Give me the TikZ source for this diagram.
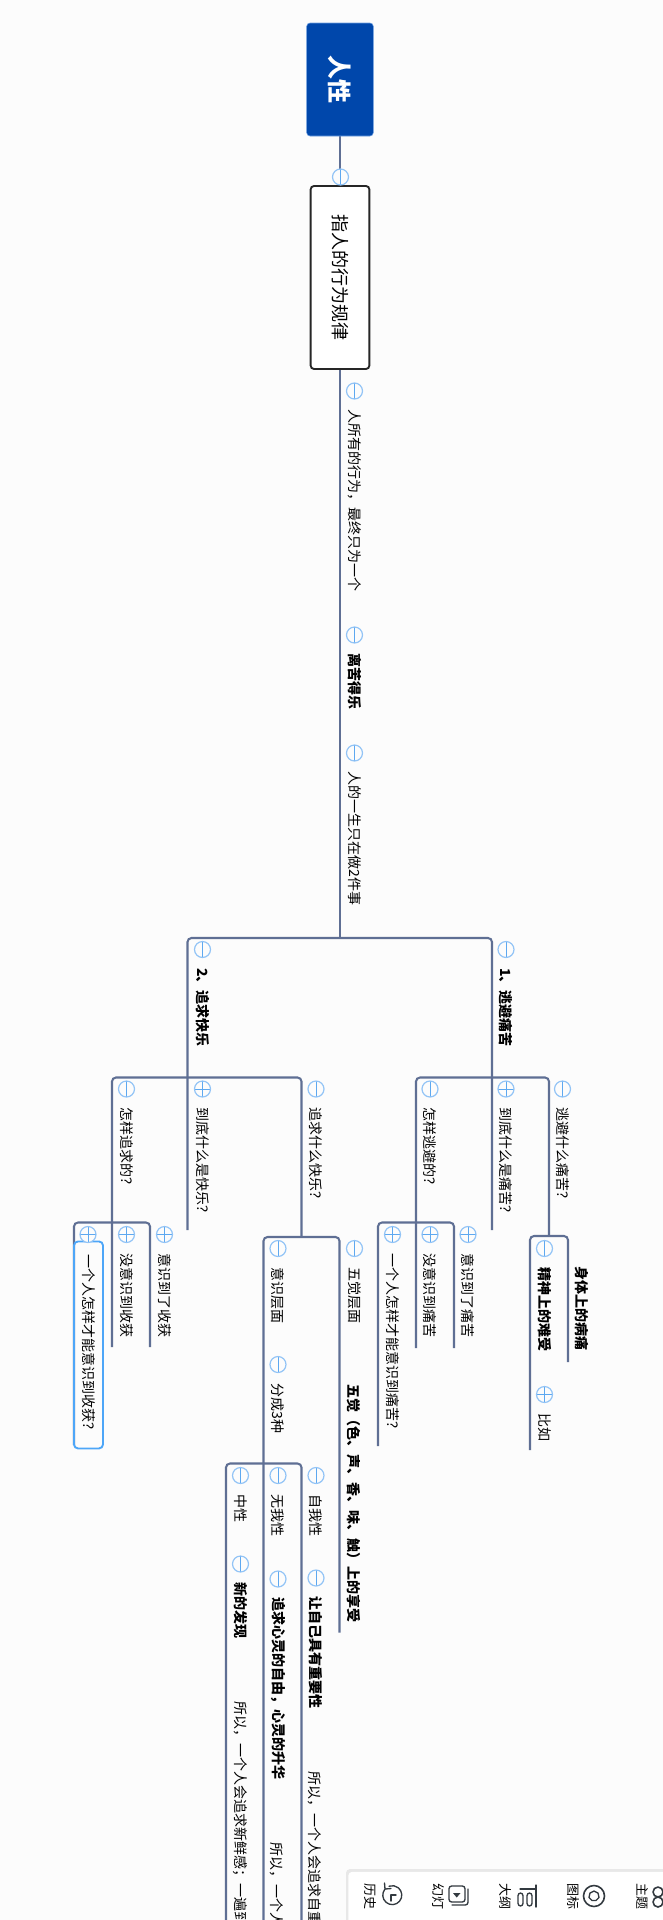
\documentclass[tikz,border=0pt]{standalone}
\usepackage{fontspec}
\setmainfont{Noto Sans CJK SC}
\usepackage{xcolor}
\usetikzlibrary{backgrounds}
\definecolor{paper}{HTML}{FCFCFC}
\definecolor{rootblue}{HTML}{0047AB}
\definecolor{rootedge}{HTML}{6F9FE0}
\definecolor{edge}{HTML}{5F6F94}
\definecolor{ring}{HTML}{93C4F6}
\definecolor{bar}{HTML}{5DA8F0}
\definecolor{pick}{HTML}{4DA6F8}
\definecolor{ink}{HTML}{333A40}
\tikzset{
  root/.style={rotate=-90,draw=rootedge,fill=rootblue,rounded corners=2.5pt,text=white,
    font=\fontsize{18}{20}\selectfont\bfseries,minimum width=84.75pt,minimum height=50pt,inner sep=0pt},
  topic/.style={rotate=-90,draw=black!85,fill=white,line width=1.4pt,rounded corners=2.5pt,
    font=\fontsize{13.5}{16}\selectfont,minimum width=137.25pt,minimum height=44pt,inner sep=0pt},
  link/.style={draw=edge,line width=1.55pt,rounded corners=3pt},
  tog/.style={circle,draw=ring,fill=paper,line width=.9pt,minimum size=12pt,inner sep=0pt,outer sep=0pt},
  togm/.style={tog,path picture={\draw[bar,line width=.7pt] (path picture bounding box.north) -- (path picture bounding box.south);}},
  togp/.style={tog,path picture={\draw[bar,line width=.7pt] (path picture bounding box.north) -- (path picture bounding box.south)
    (path picture bounding box.west) -- (path picture bounding box.east);}},
  item/.style={rotate=-90,anchor=west,inner sep=0pt,font=\fontsize{10.5}{12}\selectfont},
  bitem/.style={item,font=\fontsize{10.5}{12}\selectfont\bfseries},
  chosen/.style={item,draw=pick,line width=1.4pt,rounded corners=3pt,inner xsep=9.75pt,inner ysep=0pt,
    text width=135.75pt,align=left,minimum height=21.75pt},
  panel/.style={fill=white,rounded corners=3pt,inner sep=0pt,minimum width=270pt,minimum height=45pt,anchor=north west},
  tool/.style={rotate=-90,inner sep=0pt,font=\fontsize{9.75}{11}\selectfont},
  icon/.style={draw=ink,line width=1pt,line cap=round,line join=round}
}
\begin{document}
\begin{tikzpicture}[x=.75pt,y=-.75pt]
  \path[use as bounding box] (0,0) rectangle (663,1920);
  \clip (0,0) rectangle (663,1920);

  \begin{scope}[on background layer]
    \fill[paper] (0,0) rectangle (663,1920);
  \end{scope}

  \node[root] (root) at (340,79.5) {人性};
  \node[topic] (topic) at (340,277.5) {指人的行为规律};
  \node[togm] (ctopic) at (340.5,177) {};

  \node[togm] (c1) at (354.5,391) {};
  \node[item] (t1) at ([yshift=-8pt]c1.south) {人所有的行为，最终只为一个};
  \node[togm] (c2) at (354.5,635) {};
  \node[bitem] (t2) at ([yshift=-8pt]c2.south) {离苦得乐};
  \node[togm] (c3) at (354.5,753) {};
  \node[item] (t3) at ([yshift=-8pt]c3.south) {人的一生只在做2件事};

  \node[togm] (cjoy) at (202.5,949.5) {};
  \node[bitem] (joy) at ([yshift=-8pt]cjoy.south) {2、追求快乐};
  \node[togm] (cpain) at (506,949.5) {};
  \node[bitem] (pain) at ([yshift=-8pt]cpain.south) {1、逃避痛苦};

  \node[togm] (chowp) at (430,1089) {};
  \node[item] (howp) at ([yshift=-8pt]chowp.south) {怎样逃避的？};
  \node[togp] (cwhatp) at (506,1089) {};
  \node[item] (whatp) at ([yshift=-8pt]cwhatp.south) {到底什么是痛苦？};
  \node[togm] (cwhichp) at (562.5,1089) {};
  \node[item] (whichp) at ([yshift=-8pt]cwhichp.south) {逃避什么痛苦？};

  \node[togp] (cmakep) at (392.5,1234.5) {};
  \node[item] (makep) at ([yshift=-8pt]cmakep.south) {一个人怎样才能意识到痛苦？};
  \node[togp] (cnop) at (430,1234.5) {};
  \node[item] (nop) at ([yshift=-8pt]cnop.south) {没意识到痛苦};
  \node[togp] (cyesp) at (468,1234.5) {};
  \node[item] (yesp) at ([yshift=-8pt]cyesp.south) {意识到了痛苦};

  \node[togm] (cmind) at (544.5,1248.5) {};
  \node[bitem] (mind) at ([yshift=-8pt]cmind.south) {精神上的难受};
  \node[togp] (ceg) at (544.5,1394.5) {};
  \node[item] (eg) at ([yshift=-8pt]ceg.south) {比如};
  \node[bitem] (body) at (582,1266) {身体上的病痛};

  \node[togm] (chowj) at (126.5,1089) {};
  \node[item] (howj) at ([yshift=-8pt]chowj.south) {怎样追求的？};
  \node[togp] (cwhatj) at (202.5,1089) {};
  \node[item] (whatj) at ([yshift=-8pt]cwhatj.south) {到底什么是快乐？};
  \node[togm] (cwhichj) at (316,1089) {};
  \node[item] (whichj) at ([yshift=-8pt]cwhichj.south) {追求什么快乐？};

  \node[chosen] (makej) at (88.5,1240.5) {一个人怎样才能意识到收获？};
  \node[togp] (cmakej) at (88,1234.5) {};
  \node[togp] (cnoj) at (126.5,1234.5) {};
  \node[item] (noj) at ([yshift=-8pt]cnoj.south) {没意识到收获};
  \node[togp] (cyesj) at (164.5,1234.5) {};
  \node[item] (yesj) at ([yshift=-8pt]cyesj.south) {意识到了收获};

  \node[togm] (cfeel) at (278,1248.5) {};
  \node[item] (feel) at ([yshift=-8pt]cfeel.south) {意识层面};
  \node[togm] (cthree) at (278,1364.5) {};
  \node[item] (three) at ([yshift=-8pt]cthree.south) {分成3种};
  \node[togm] (csense) at (354.5,1248.5) {};
  \node[item] (sense) at ([yshift=-8pt]csense.south) {五觉层面};
  \node[bitem] (senses) at (354,1384) {五觉（色、声、香、味、触）上的享受};

  \node[togm] (cneu) at (240.5,1475.5) {};
  \node[item] (neu) at ([yshift=-8pt]cneu.south) {中性};
  \node[togm] (cnone) at (278,1475.5) {};
  \node[item] (none) at ([yshift=-8pt]cnone.south) {无我性};
  \node[togm] (cself) at (316,1475.5) {};
  \node[item] (self) at ([yshift=-8pt]cself.south) {自我性};
  \node[togm] (cnew) at (240.5,1564) {};
  \node[bitem] (new) at ([yshift=-8pt]cnew.south) {新的发现};
  \node[togm] (cfree) at (278,1579) {};
  \node[bitem] (free) at ([yshift=-8pt]cfree.south) {追求心灵的自由，心灵的升华};
  \node[togm] (cweight) at (316,1578) {};
  \node[bitem] (weight) at ([yshift=-8pt]cweight.south) {让自己具有重要性};
  \node[item] (newso) at (240,1701) {所以，一个人会追求新鲜感；一遍到};
  \node[item] (freeso) at (277,1842) {所以，一个人};
  \node[item] (weightso) at (315,1771) {所以，一个人会追求自重};

  \coordinate (fork) at (340,938);
  \coordinate (joyend) at (187.5,1230);
  \coordinate (painend) at (492,1230);
  \coordinate (painfork) at (492,1077.5);
  \coordinate (howpend) at (416,1348);
  \coordinate (howpfork) at (416,1222.5);
  \coordinate (makepend) at (378,1446);
  \coordinate (yespend) at (454,1348);
  \coordinate (whichpfork) at (549,1236);
  \coordinate (mindend) at (530,1450);
  \coordinate (bodyend) at (568,1362);
  \coordinate (joyfork) at (187.5,1077.5);
  \coordinate (howjend) at (112,1347);
  \coordinate (howjfork) at (112,1222.5);
  \coordinate (makejend) at (74,1445);
  \coordinate (yesjend) at (150,1347);
  \coordinate (whichjfork) at (301.5,1237);
  \coordinate (feelend) at (263.5,1920);
  \coordinate (senseend) at (339.5,1632.5);
  \coordinate (threefork) at (263.5,1463.5);
  \coordinate (neuend) at (226,1920);
  \coordinate (selfend) at (301.5,1920);

  \begin{scope}[on background layer]
    \draw[link] (root) -- (topic);
    \draw[link] (topic) -- (fork);
    \draw[link] (joyend) |- (fork) -| (painend);
    \draw[link] (howpend) |- (painfork) -| (whichpfork);
    \draw[link] (makepend) |- (howpfork) -| (yespend);
    \draw[link] (mindend) |- (whichpfork) -| (bodyend);
    \draw[link] (howjend) |- (joyfork) -| (whichjfork);
    \draw[link] (makejend) |- (howjfork) -| (yesjend);
    \draw[link] (feelend) |- (whichjfork) -| (senseend);
    \draw[link] (neuend) |- (threefork) -| (selfend);
  \end{scope}

  \fill[black!9,rounded corners=3pt] (346,1869) rectangle (680,1930);
  \node[panel] (tools) at (348,1871.5) {};
  \node[tool] (history) at (370,1896) {历史};
  \node[tool] (slides) at (438.5,1896) {幻灯};
  \node[tool] (outline) at (505.5,1896) {大纲};
  \node[tool] (icons) at (573.5,1896) {图标};
  \node[tool] (theme) at (642.5,1896) {主题};

  \draw[icon] (385,1889) arc[start angle=220,end angle=-110,radius=9.5];
  \draw[icon] (385,1889) -- (384.5,1883) (385,1889) -- (391,1888.5);
  \draw[icon] (396,1895) -- (391,1895) -- (391,1901);
  \draw[icon,rounded corners=2pt] (449,1886) rectangle (465,1902);
  \draw[icon,rounded corners=2pt] (468,1889) -- (468,1905) -- (452,1905);
  \fill[ink] (453,1893) -- (460.5,1893) -- (456.75,1897.5) -- cycle;
  \draw[icon] (536,1885) -- (536,1907);
  \draw[icon] (520,1889) -- (536,1889);
  \draw[icon,rounded corners=2pt] (518,1893) rectangle (523,1906);
  \draw[icon,rounded corners=2pt] (527,1893) rectangle (532,1906);
  \draw[icon,line width=1.2pt] (594,1896) circle[radius=10.5];
  \draw[icon] (594,1891) -- (598,1893) -- (599,1897.5) -- (596,1900.5) -- (592,1900.5) -- (589,1897.5) -- (590,1893) -- cycle;
  \draw[icon,line width=1.2pt] (658,1892) circle[radius=5];
  \draw[icon,line width=1.2pt] (658,1902) circle[radius=5];
\end{tikzpicture}
\end{document}
